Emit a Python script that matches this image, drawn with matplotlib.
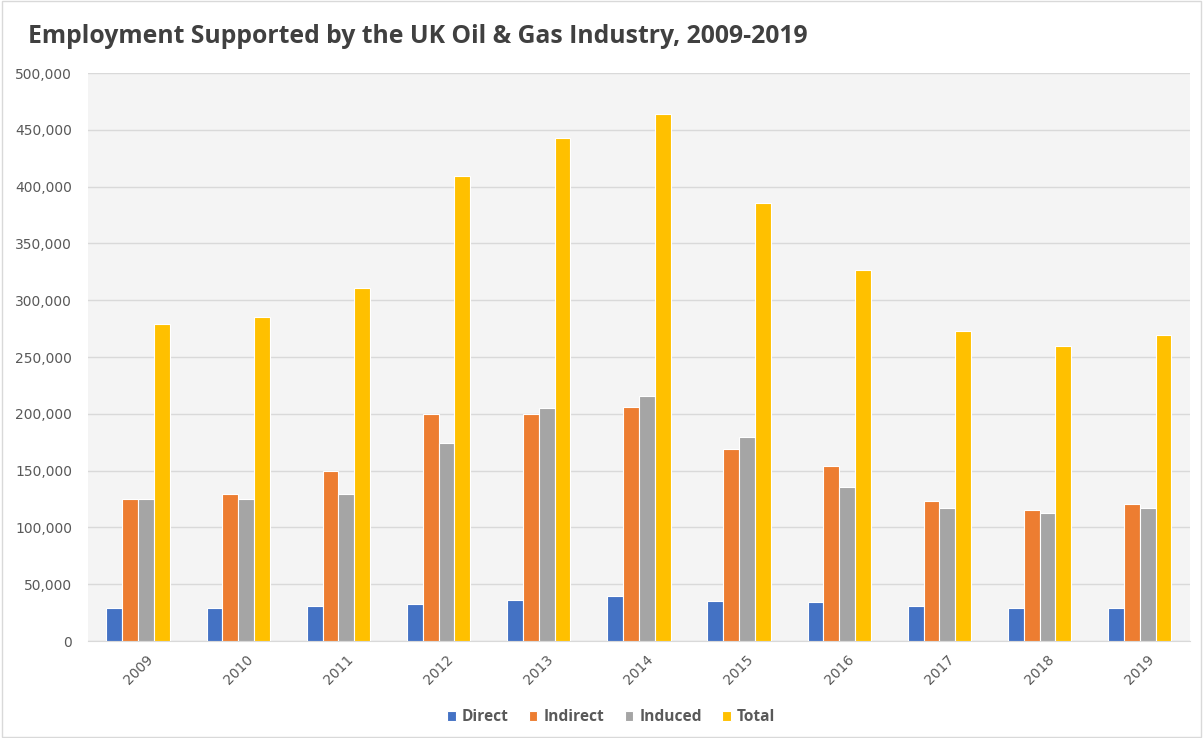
import numpy as np
import matplotlib
matplotlib.use("Agg")
from matplotlib import pyplot as plt
from matplotlib.ticker import FuncFormatter
from matplotlib.patches import Rectangle

years = ["2009", "2010", "2011", "2012", "2013", "2014", "2015", "2016", "2017", "2018", "2019"]
direct = [29500, 29500, 30500, 32500, 36500, 40000, 35500, 34500, 30500, 29500, 29500]
indirect = [125000, 129000, 150000, 200000, 200000, 206000, 169000, 154000, 123500, 115000, 120500]
induced = [125000, 125000, 129500, 174500, 205000, 216000, 180000, 135500, 117000, 113000, 117000]
total = [279500, 285000, 311000, 409000, 443000, 464000, 386000, 327000, 273000, 260000, 269000]

series_names = ["Direct", "Indirect", "Induced", "Total"]
colors = ["#4472C4", "#ED7D31", "#A5A5A5", "#FFC000"]

fig = plt.figure(figsize=(12.03, 7.38), dpi=100)
ax = fig.add_axes([0.0732, 0.1314, 0.9158, 0.7696])
ax.set_facecolor("#f4f4f4")

# thin frame round the whole chart
fig.patches.append(Rectangle((0.002, 0.002), 0.996, 0.996, transform=fig.transFigure,
                             fill=False, edgecolor="#d9d9d9", linewidth=1))

x = np.arange(len(years))
width = 0.158
all_series = [direct, indirect, induced, total]
for i, (vals, name, col) in enumerate(zip(all_series, series_names, colors)):
    offs = (i - 1.5) * width
    ax.bar(x + offs, vals, width, color=col, edgecolor="white", linewidth=0.8, label=name, zorder=3)

ax.set_xlim(-0.5, len(years) - 0.5)
ax.set_ylim(0, 500000)
ax.set_yticks(np.arange(0, 500001, 50000))
ax.yaxis.set_major_formatter(FuncFormatter(lambda v, p: f"{int(v):,}"))
ax.grid(axis="y", color="#d9d9d9", linewidth=1, zorder=0)
ax.set_xticks(x)
ax.set_xticklabels(years, rotation=45, ha="center", rotation_mode="default")

for s in ["top", "right", "left"]:
    ax.spines[s].set_visible(False)
ax.spines["bottom"].set_color("#d9d9d9")
ax.tick_params(axis="both", length=0, colors="#595959", labelsize=10)
ax.tick_params(axis="y", pad=11.5)
ax.tick_params(axis="x", pad=8)

fig.text(0.023, 0.95, "Employment Supported by the UK Oil & Gas Industry, 2009-2019",
         fontsize=17.8, fontweight="bold", color="#404040", family="Open Sans", va="center")

leg = fig.legend(loc="center", bbox_to_anchor=(0.508, 0.028), ncol=4, frameon=False,
                 handlelength=0.55, handleheight=0.55, handletextpad=0.4, columnspacing=1.3,
                 prop={"family": "Open Sans", "weight": "bold", "size": 11.2})
for t in leg.get_texts():
    t.set_color("#595959")

fig.savefig("out.png", dpi=100, facecolor="white")
